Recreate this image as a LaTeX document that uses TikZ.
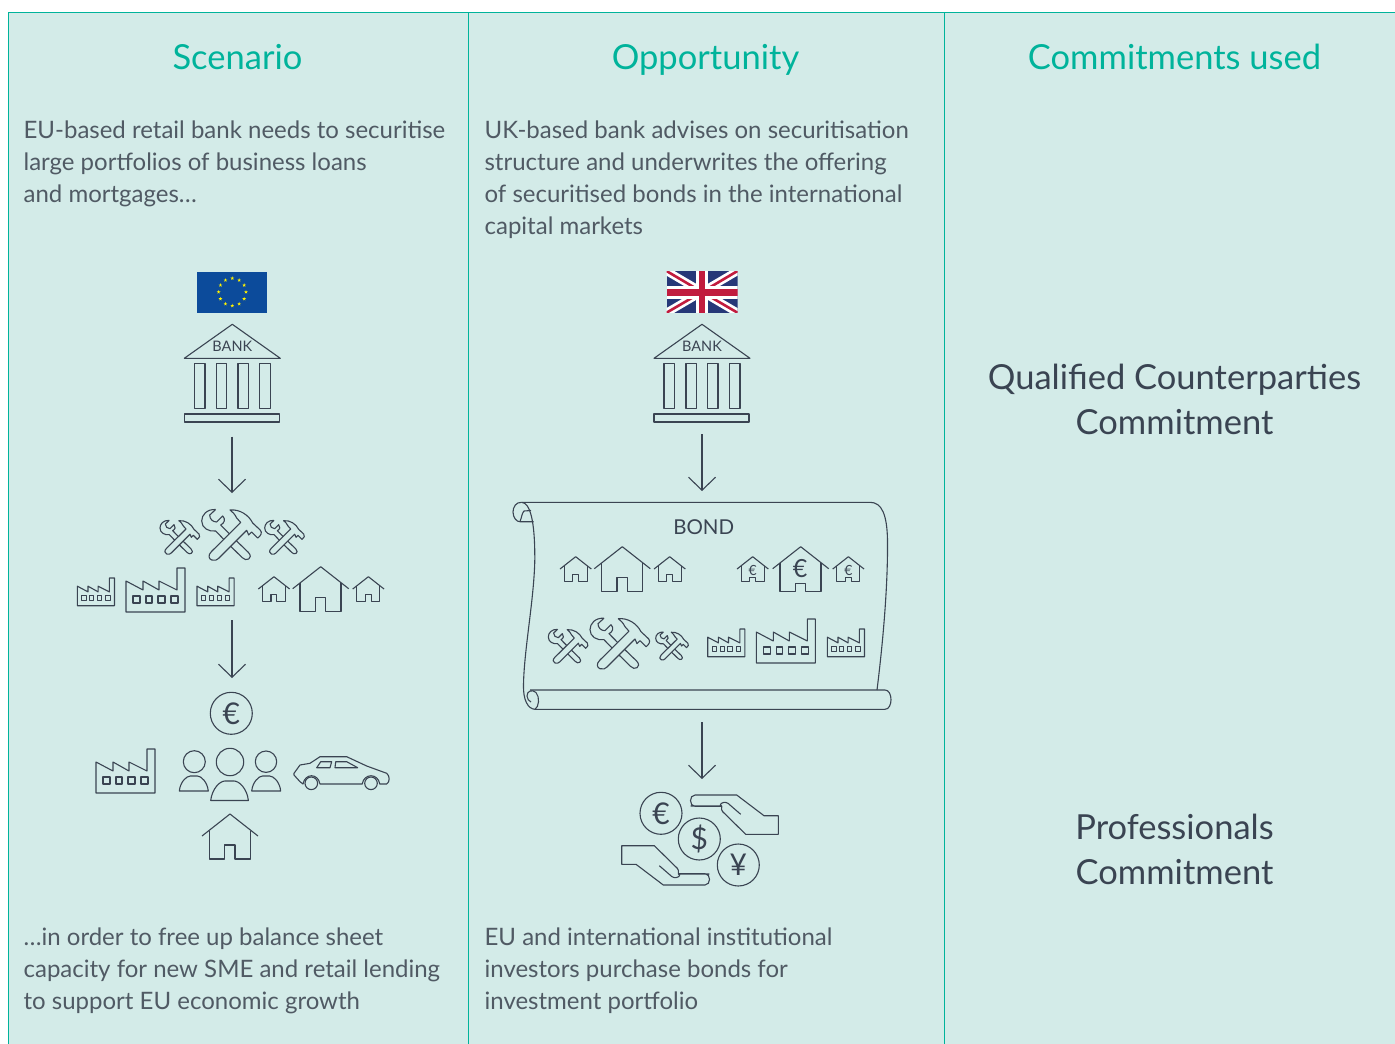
\documentclass[tikz,border=0pt]{standalone}
\usepackage{fontspec}
\setmainfont{Lato}
\usepackage{tikz}
\usetikzlibrary{arrows.meta}

\definecolor{panelbg}{RGB}{211,235,232}
\definecolor{teal}{RGB}{0,179,155}
\definecolor{ink}{RGB}{58,68,82}
\definecolor{bodyink}{RGB}{80,90,100}
\definecolor{eublue}{RGB}{12,75,155}
\definecolor{ukblue}{RGB}{38,56,120}
\definecolor{ukred}{RGB}{193,28,62}

\tikzset{
	factory/.pic={
		\draw[icon] (0,13) -- (17,22) -- (17,13) -- (33,22) -- (33,13) -- (51,22) -- (51,0) -- (59,0) -- (59,44) -- (0,44) -- cycle;
		\draw[icon] (7,28) rectangle (14,35);
		\draw[icon] (20,28) rectangle (26,35);
		\draw[icon] (32,28) rectangle (39,35);
		\draw[icon] (45,28) rectangle (52,35);
	},
	pics/house/.style={code={
		\draw[icon] (0,22) -- (28,0) -- (56,22);
		\draw[icon] (7.3,16.5) -- (7.3,45) -- (22.7,45) -- (22.7,#1) -- (33,#1) -- (33,45) -- (48.3,45) -- (48.3,16.5);
	}},
	tools/.pic={
		% wrench, head side
		\draw[icon] (14,0.5) -- (8,6) .. controls (8,10) and (11,13) .. (15,13) -- (21,7) .. controls (24,10) and (23,14) .. (19,16) -- (27.7,24.8)
			(22.2,30.5) -- (14,22) .. controls (7,23) and (0,19) .. (0,12) .. controls (0,6) and (5,0) .. (14,0.5);
		% wrench, handle side
		\draw[icon] (34.6,31.7) -- (46.5,43.2) .. controls (49.5,46.2) and (49,49) .. (47,50) .. controls (45,51.5) and (42.5,50.5) .. (40.5,48.6) -- (29,37.3);
		% hammer
		\draw[icon] (39,13.5) -- (35,9) .. controls (33,5) and (31,3) .. (28.3,1) .. controls (38,0) and (47,6) .. (51,14) -- (58.5,21) .. controls (61,23.5) and (59,27) .. (56,29) -- (50,23) -- (47,26) -- (45,21.3) -- (16.8,49.5) .. controls (15.5,51) and (13,52) .. (10,51) .. controls (7,50) and (6,46) .. (9.8,42.5) -- cycle;
	},
	bankhall/.pic={
		\draw[icon] (0,34) -- (48,0) -- (96,34) -- cycle;
		\draw[icon] (10,39) rectangle (20.7,84.4);
		\draw[icon] (32,39) rectangle (42.4,84.4);
		\draw[icon] (53.7,39) rectangle (64,84.4);
		\draw[icon] (75.4,39) rectangle (86,84.4);
		\draw[icon] (0,89.7) rectangle (95,97.7);
		\node[font=\fontsize{14.5}{16}\selectfont, text=ink] (-label) at (48,22.5) {BANK};
	},
	person/.pic={
		\draw[icon] (0,15) .. controls (1,6) and (7,0) .. (11,0) -- (18,0) .. controls (22,0) and (28,6) .. (29,15) -- cycle;
	},
	hand/.pic={
		\draw[icon] (-9.3,-34) -- (21.7,-34) .. controls (18,-34) and (22,-40) .. (28,-36.7) -- (40.7,-25.7)
			(21.7,-33.7) .. controls (21,-31) and (22,-29) .. (22.7,-28.3) -- (45.7,-5.7) -- (78.3,-5.7) -- (78.3,-24.3) -- (64,-24.3) -- (36.7,-45) -- (-5,-45) .. controls (-11,-45) and (-11,-33.7) .. (-5,-33.7) -- (21.7,-33.7);
	}
}

\begin{document}
\begin{tikzpicture}[x=1pt,y=-1pt,line width=1.2pt,
	icon/.style={draw=ink,line width=1.1pt,line join=round},
	flow/.style={draw=ink,line width=1.1pt,-{Straight Barb[length=13pt,width=27pt,line width=1.1pt]}},
	rule/.style={draw=teal,line width=1pt},
	heading/.style={anchor=base,text=teal,font=\fontsize{34.5}{40}\selectfont},
	bodytext/.style={anchor=north west,inner sep=0pt,align=left,text=bodyink,font=\fontsize{24}{32}\selectfont},
	commit/.style={align=center,inner sep=0pt,text=ink,font=\fontsize{34.5}{45}\selectfont},
	coin/.style={circle,draw=ink,line width=1.1pt,minimum size=42pt,inner sep=0pt,text=ink,font=\fontsize{30}{32}\selectfont},
	euro mark/.style={inner sep=0pt,text=ink,font=\fontsize{14}{16}\selectfont}]

	\useasboundingbox (0,0) rectangle (1395,1044);
	\fill[white] (0,0) rectangle (1395,1044);
	\fill[panelbg] (8,12.5) rectangle (1395,1044);

	% column rules
	\coordinate (topleft) at (8,12.5);
	\coordinate (topright) at (1395,12.5);
	\coordinate (botleft) at (8,1044);
	\coordinate (topa) at (468,12.5);
	\coordinate (bota) at (468,1044);
	\coordinate (topb) at (944.5,12.5);
	\coordinate (botb) at (944.5,1044);
	\draw[rule] (botleft) -- (topleft) -- (topright);
	\draw[rule] (topa) -- (bota);
	\draw[rule] (topb) -- (botb);

	% headings
	\node[heading] (scenario) at (237.5,69.5) {Scenario};
	\node[heading] (opportunity) at (705.5,69.5) {Opportunity};
	\node[heading] (used) at (1174.5,69.5) {Commitments used};

	% texts
	\node[bodytext] (scenariotext) at (23,120) {EU-based retail bank needs to securitise\\large portfolios of business loans\\and mortgages…};
	\node[bodytext] (opportunitytext) at (484,120) {UK-based bank advises on securitisation\\structure and underwrites the offering\\of securitised bonds in the international\\capital markets};
	\node[bodytext] (growthtext) at (23,927) {…in order to free up balance sheet\\capacity for new SME and retail lending\\to support EU economic growth};
	\node[bodytext] (investortext) at (484,927) {EU and international institutional\\investors purchase bonds for\\investment portfolio};
	\node[commit] (qualified) at (1174.5,399) {Qualified Counterparties\\Commitment};
	\node[commit] (professionals) at (1174.5,849) {Professionals\\Commitment};

	% EU flag
	\fill[eublue] (197,271.7) rectangle (267.3,312.7);
	\foreach \a in {0,30,...,330} {
		\fill[yellow] (232.3,292) ++(\a:13.7) +(270:2) -- +(54:2) -- +(198:2) -- +(342:2) -- +(126:2) -- cycle;
	}

	% UK flag
	\begin{scope}
		\clip (666.5,271) rectangle (737.5,312.7);
		\fill[ukblue] (666.5,271) rectangle (737.5,312.7);
		\draw[white,line width=8pt] (666.5,271) -- (737.5,312.7) (666.5,312.7) -- (737.5,271);
		\draw[ukred,line width=2.6pt] (666.5,271) -- (702,292) (702,292) -- (737.5,312.7) (666.5,312.7) -- (702,292) (702,292) -- (737.5,271);
		\fill[white] (696,271) rectangle (707.5,312.7);
		\fill[white] (666.5,285.5) rectangle (737.5,298.5);
		\fill[ukred] (698.5,271) rectangle (705,312.7);
		\fill[ukred] (666.5,288.5) rectangle (737.5,295.5);
	\end{scope}

	% banks
	\pic (banka) at (184.3,324.3) {bankhall};
	\pic (bankb) at (654,324.3) {bankhall};

	% scenario column, second row
	\pic[scale=.667] (toola) at (160,520) {tools};
	\pic (toolb) at (201.7,509) {tools};
	\pic[scale=.667] (toolc) at (264.7,520) {tools};
	\pic[scale=.63] (factorya) at (77.3,578) {factory};
	\pic (factoryb) at (126,568) {factory};
	\pic[scale=.63] (factoryc) at (197,578) {factory};
	\pic[scale=.56] (housea) at (258.3,576.7) {house=31};
	\pic (houseb) at (292.7,566.7) {house=31};
	\pic[scale=.56] (housec) at (352.7,576.7) {house=31};

	% scenario column, borrowers
	\node[coin] (euroa) at (231.3,713.3) {€};
	\pic (factoryd) at (96,749) {factory};
	\draw[icon] (194.3,761.7) circle (11);
	\draw[icon] (230,762) circle (13.7);
	\draw[icon] (266,761.7) circle (10.7);
	\pic (persona) at (179.3,776) {person};
	\pic[scale=1.3] (personb) at (210.7,781) {person};
	\pic (personc) at (251.7,776) {person};
	\draw[icon] (294,773.3) -- (300,765) -- (310,763.3) -- (320,756.7) -- (346.7,756.7) -- (366.7,766) -- (386.7,773.3) .. controls (390,776) and (390,782) .. (386.7,784) -- (379.8,784) .. controls (378,773) and (364,773) .. (362.2,784) -- (320,784) .. controls (318,773) and (305,773) .. (303,784) -- (300,781.7) -- (294,775) -- cycle;
	\draw[icon] (316.7,767.7) -- (320.7,761.7) -- (331.7,761.7) -- (330,767.7) -- cycle;
	\draw[icon] (335.7,761.7) -- (346.7,761.7) -- (357.7,767.7) -- (335,767.7) -- cycle;
	\draw[icon] (311.3,783.3) circle (6.3);
	\draw[icon] (371,783.3) circle (6.3);
	\pic (housed) at (202,814) {house=31};

	% bond
	\draw[icon] (521.7,502.3) -- (870,502.3) .. controls (882,502.3) and (887,515) .. (887.5,540) .. controls (888,590) and (882,650) .. (877,690);
	\draw[icon] (521.7,502.3) .. controls (530,503) and (535,520) .. (534.8,560) .. controls (534,600) and (524,650) .. (523.5,685) .. controls (523,700) and (528,709) .. (535,709.3);
	\draw[icon] (521.7,502.3) .. controls (516,502) and (513,507) .. (513,512) .. controls (513,518) and (517,522) .. (520,521.7) -- (533.5,521.7);
	\draw[icon] (531,510.5) -- (524,511) .. controls (522,513) and (521.5,518) .. (520,521.7);
	\draw[icon] (530,690) -- (885,690) .. controls (893,690) and (893,709.3) .. (885,709.3) -- (535,709.3);
	\draw[icon] (535,709.3) .. controls (539,707) and (540,697) .. (536,692.5) .. controls (532,689) and (527,691) .. (527,696) .. controls (527,699) and (529,701) .. (531,702);
	\node[inner sep=0pt,text=ink,font=\fontsize{20.5}{24}\selectfont] (bondlabel) at (703.7,527) {BOND};

	\pic[scale=.56] (bondhousea) at (560,556.7) {house=31};
	\pic (bondhouseb) at (594.3,546.7) {house=31};
	\pic[scale=.56] (bondhousec) at (654,556.7) {house=31};
	\pic[scale=.56] (bondhoused) at (737,556.7) {house=37};
	\pic (bondhousee) at (772.7,546.7) {house=37};
	\pic[scale=.56] (bondhousef) at (832.7,556.7) {house=37};
	\node[euro mark] (bondeuroa) at (752.7,570) {€};
	\node[euro mark,font=\fontsize{25}{28}\selectfont] (bondeurob) at (800,569) {€};
	\node[euro mark] (bondeuroc) at (848.5,570) {€};

	\pic[scale=.667] (bondtoola) at (548.3,629) {tools};
	\pic (bondtoolb) at (590,617.7) {tools};
	\pic[scale=.55] (bondtoolc) at (655.7,631.7) {tools};
	\pic[scale=.63] (bondfactorya) at (707.7,629) {factory};
	\pic (bondfactoryb) at (756.3,619) {factory};
	\pic[scale=.63] (bondfactoryc) at (827.3,629) {factory};

	% hands and coins
	\node[coin] (euroc) at (661,813.3) {€};
	\node[coin] (dollar) at (699.3,839) {\$};
	\node[coin] (yen) at (738.3,865) {¥};
	\pic (handa) at (700,840) {hand};
	\pic[rotate=180] (handb) at (700,840) {hand};

	% arrows
	\coordinate (fromscenariobank) at (232,436.5);
	\coordinate (toscenariotools) at (232,493);
	\coordinate (fromscenarioassets) at (232,620);
	\coordinate (toborrowers) at (232,678);
	\coordinate (fromukbank) at (702,434);
	\coordinate (tobond) at (702,491);
	\coordinate (frombond) at (702,722);
	\coordinate (toinvestors) at (702,779);

	\path
	(fromscenariobank) edge[flow] (toscenariotools)
	(fromscenarioassets) edge[flow] (toborrowers)
	(fromukbank) edge[flow] (tobond)
	(frombond) edge[flow] (toinvestors);

\end{tikzpicture}
\end{document}
